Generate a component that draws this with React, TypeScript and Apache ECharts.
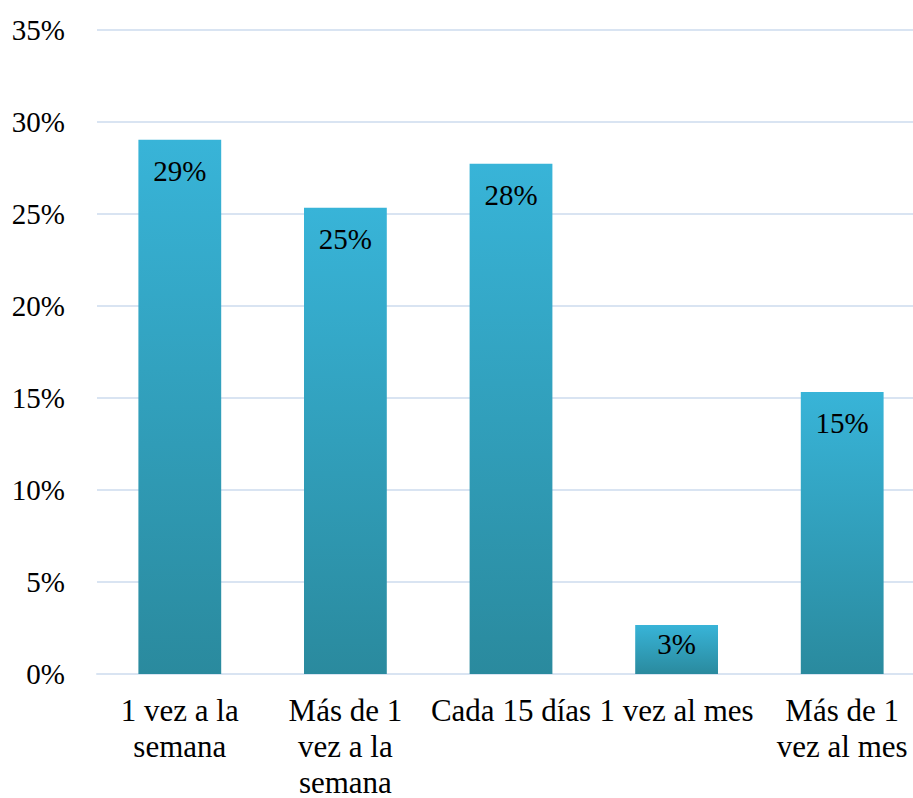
import React, { useEffect, useRef } from "react";
import * as echarts from "echarts";

const categories = [
  "1 vez a la\nsemana",
  "Más de 1\nvez a la\nsemana",
  "Cada 15 días",
  "1 vez al mes",
  "Más de 1\nvez al mes",
];
const values = [29.04, 25.34, 27.73, 2.66, 15.33];
const labelTexts = ["29%", "25%", "28%", "3%", "15%"];

export default function App() {
  const ref = useRef<HTMLDivElement>(null);
  useEffect(() => {
    if (!ref.current) return;
    document.body.style.margin = "0";
    const chart = echarts.init(ref.current, null, { renderer: "svg" });
    const font = "serif";
    chart.setOption({
      animation: false,
      grid: {
        left: 97,
        top: 30,
        width: 828,
        height: 644,
        containLabel: false,
        outerBoundsMode: "none",
      },
      xAxis: {
        type: "category",
        data: categories,
        axisTick: { show: false },
        axisLine: { show: true, lineStyle: { color: "#D9E4F2", width: 2 } },
        axisLabel: {
          interval: 0,
          margin: 18,
          color: "#000",
          fontFamily: font,
          fontSize: 31,
          lineHeight: 36,
        },
      },
      yAxis: {
        type: "value",
        min: 0,
        max: 35,
        interval: 5,
        axisLine: { show: false },
        axisTick: { show: false },
        splitLine: { lineStyle: { color: "#D9E4F2", width: 2 } },
        axisLabel: {
          margin: 32,
          color: "#000",
          fontFamily: font,
          fontSize: 29,
          formatter: (v: number) => v + "%",
        },
      },
      series: [
        {
          type: "bar",
          barWidth: "50%",
          data: values.map((v, i) => ({
            value: v,
            label: i === 3 ? { distance: 4 } : undefined,
          })),
          itemStyle: {
            color: new echarts.graphic.LinearGradient(0, 0, 0, 1, [
              { offset: 0, color: "#38B4D8" },
              { offset: 1, color: "#2A8A9E" },
            ]),
          },
          label: {
            show: true,
            position: "insideTop",
            distance: 17,
            color: "#000",
            fontFamily: font,
            fontSize: 29,
            formatter: (p: any) => labelTexts[p.dataIndex],
          },
        },
      ],
    });
    return () => chart.dispose();
  }, []);
  return <div ref={ref} style={{ width: 913, height: 798 }} />;
}
